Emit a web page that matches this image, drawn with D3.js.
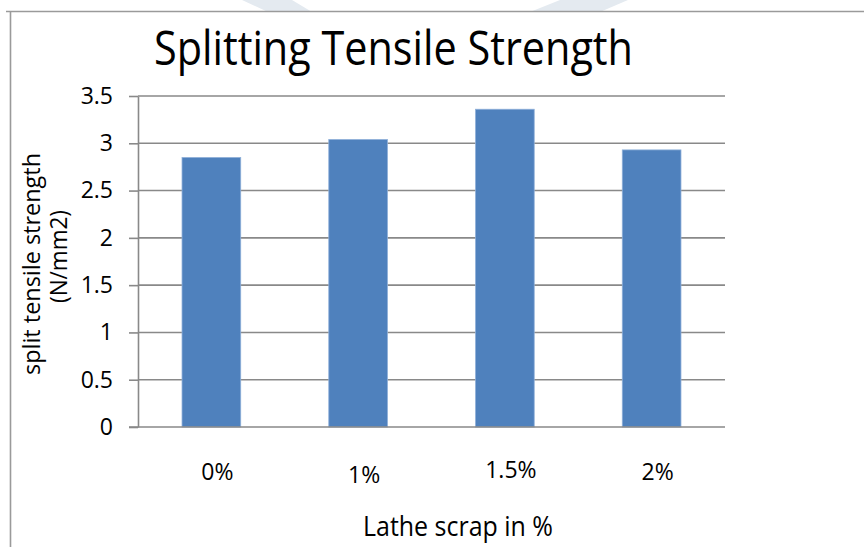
<!DOCTYPE html>
<html>
<head>
<meta charset="utf-8">
<script src="https://cdn.jsdelivr.net/npm/d3@7/dist/d3.min.js"></script>
<style>
  html, body { margin: 0; padding: 0; background: #ffffff; }
  svg { display: block; }
  text { font-family: "Open Sans", "Noto Sans", sans-serif; fill: #000; }
</style>
</head>
<body>
<svg id="chart" width="864" height="547"></svg>
<script>
// Splitting tensile strength (N/mm2) by lathe scrap content
const categories = ["0%", "1%", "1.5%", "2%"];
const strengthValues = [2.85, 3.04, 3.36, 2.93];
const yTicks = [0, 0.5, 1, 1.5, 2, 2.5, 3, 3.5];
const yTickLabels = ["0", "0.5", "1", "1.5", "2", "2.5", "3", "3.5"];

// small per-label vertical nudges of the category labels
const labelNudge = [0, 3, -2, 0];

const svg = d3.select("#chart");
const W = 864, H = 547;
const plot = { left: 138, right: 725, top: 96, bottom: 427 };

// faint watermark strokes along the top edge
const wm = svg.append("g").attr("fill", "#e4eaf0");
wm.append("path").attr("d", "M242,0 L292,0 L312,12 L268,12 Z");
wm.append("path").attr("d", "M560,0 L628,0 L600,12 L530,12 Z");

// outer frame
svg.append("path")
  .attr("d", `M6,11.5 L${W},11.5 M10.5,11.5 L10.5,${H}`)
  .attr("fill", "none")
  .attr("stroke", "#9a9a9a")
  .attr("stroke-width", 1.6);

const x = d3.scaleBand()
  .domain(categories)
  .range([plot.left, plot.right])
  .paddingInner(0.6)
  .paddingOuter(0.3);

const y = d3.scaleLinear()
  .domain([0, 3.5])
  .range([plot.bottom, plot.top]);

// horizontal gridlines
svg.append("g")
  .selectAll("line")
  .data(yTicks.filter(d => d > 0))
  .join("line")
  .attr("x1", plot.left)
  .attr("x2", plot.right)
  .attr("y1", d => y(d))
  .attr("y2", d => y(d))
  .attr("stroke", "#898989")
  .attr("stroke-width", 1.6);

// bars
svg.append("g")
  .selectAll("rect")
  .data(strengthValues)
  .join("rect")
  .attr("x", (d, i) => x(categories[i]))
  .attr("width", x.bandwidth())
  .attr("y", d => y(d))
  .attr("height", d => y(0) - y(d))
  .attr("fill", "#4f81bd")
  .attr("stroke", "#8fb0d9")
  .attr("stroke-width", 0.8);

// y axis with outward ticks
const yAxis = d3.axisLeft(y)
  .tickValues(yTicks)
  .tickFormat((d, i) => yTickLabels[i])
  .tickSize(9)
  .tickSizeOuter(0)
  .tickPadding(16);

const gy = svg.append("g")
  .attr("transform", `translate(${plot.left},0)`)
  .call(yAxis);
gy.select(".domain").attr("stroke", "#898989").attr("stroke-width", 1.6);
gy.selectAll(".tick line").attr("stroke", "#898989").attr("stroke-width", 1.6);
gy.selectAll(".tick text")
  .attr("font-size", 23)
  .attr("font-family", "'Open Sans', sans-serif")
  .attr("fill", "#000");

// category axis line (extends to the 0 tick)
svg.append("line")
  .attr("x1", plot.left - 9)
  .attr("x2", plot.right)
  .attr("y1", y(0))
  .attr("y2", y(0))
  .attr("stroke", "#898989")
  .attr("stroke-width", 1.6);

// category labels
svg.append("g")
  .selectAll("text")
  .data(categories)
  .join("text")
  .attr("x", d => x(d) + x.bandwidth() / 2 + 6)
  .attr("y", (d, i) => 480 + labelNudge[i])
  .attr("text-anchor", "middle")
  .attr("font-size", 23)
  .text(d => d);

// chart title
svg.append("text")
  .attr("x", 154)
  .attr("y", 65)
  .attr("font-size", 48)
  .attr("textLength", 479)
  .attr("lengthAdjust", "spacingAndGlyphs")
  .text("Splitting Tensile Strength");

// x axis title
svg.append("text")
  .attr("x", 363)
  .attr("y", 536)
  .attr("font-size", 26.5)
  .attr("textLength", 190)
  .attr("lengthAdjust", "spacingAndGlyphs")
  .text("Lathe scrap in %");

// y axis title, two lines
const yTitle = svg.append("g").attr("transform", "rotate(-90)");
yTitle.append("text")
  .attr("x", -264)
  .attr("y", 40)
  .attr("text-anchor", "middle")
  .attr("font-size", 23.5)
  .attr("textLength", 222)
  .attr("lengthAdjust", "spacingAndGlyphs")
  .text("split tensile strength");
yTitle.append("text")
  .attr("x", -256.5)
  .attr("y", 67)
  .attr("text-anchor", "middle")
  .attr("font-size", 23.5)
  .attr("textLength", 93)
  .attr("lengthAdjust", "spacingAndGlyphs")
  .text("(N/mm2)");
</script>
</body>
</html>
